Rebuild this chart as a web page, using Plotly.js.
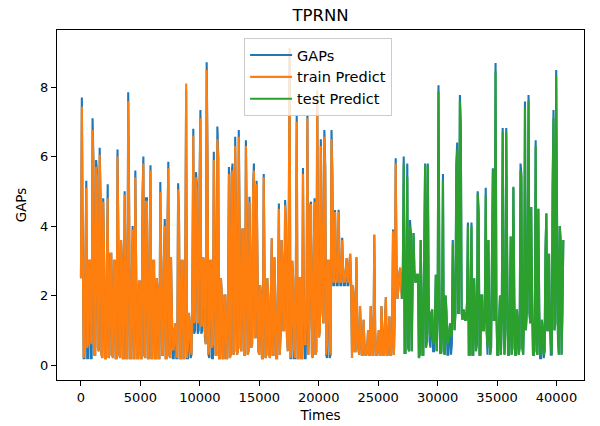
<!DOCTYPE html>
<html>
<head>
<meta charset="utf-8">
<script src="https://cdn.plot.ly/plotly-3.0.1.min.js"></script>
<style>
  html, body { margin: 0; padding: 0; background: #fff; }
  #chart { width: 600px; height: 426px; }
</style>
</head>
<body>
<div id="chart"></div>
<script>
// Each reading is a time bin of `binWidth` time units: the series swings
// between a low and a high value inside every bin.
const binWidth = 150;
const testStartBin = 180;

// Observed GAPs: upper and lower envelope per bin
const gapsHigh = [
  7.7, 3.5, 3.0, 5.3, 3.0, 3.0, 7.1, 5.9, 5.9, 5.56,
  6.25, 4.8, 4.8, 3.0, 2.5, 5.2, 3.2, 3.2, 3.0, 3.0,
  6.2, 3.6, 3.6, 3.0, 5.0, 3.0, 7.85, 4.7, 2.5, 4.0,
  5.6, 2.5, 2.4, 2.4, 4.8, 6.0, 4.8, 4.8, 3.0, 5.75,
  3.0, 3.0, 2.5, 2.2, 5.27, 3.0, 3.0, 4.2, 3.9, 5.85,
  3.1, 1.5, 1.0, 1.2, 5.23, 4.2, 3.0, 3.0, 3.0, 7.9,
  1.5, 1.2, 2.5, 6.8, 5.55, 5.2, 5.2, 7.34, 3.1, 3.0,
  8.71, 5.8, 3.0, 3.0, 6.14, 3.5, 6.86, 6.0, 2.5, 2.0,
  2.0, 2.0, 2.0, 5.7, 5.5, 5.8, 6.57, 4.0, 6.76, 3.9,
  3.9, 3.9, 6.47, 4.0, 4.84, 3.0, 5.04, 5.8, 5.3, 3.0,
  2.3, 2.0, 5.5, 2.5, 2.5, 2.0, 2.0, 3.65, 3.1, 2.0,
  2.0, 4.65, 3.6, 3.0, 4.75, 4.08, 3.7, 9.0, 3.0, 2.5,
  2.5, 7.2, 2.5, 2.5, 5.67, 2.0, 2.0, 7.2, 4.6, 4.7,
  3.0, 4.8, 7.9, 3.0, 6.5, 4.4, 6.76, 5.7, 3.0, 3.0,
  6.76, 5.5, 4.46, 3.0, 4.47, 3.0, 3.66, 2.8, 2.7, 3.08,
  2.9, 3.2, 2.3, 2.0, 3.1, 1.0, 1.7, 1.0, 1.3, 0.6,
  0.5, 1.0, 1.7, 1.0, 3.75, 1.0, 0.6, 1.0, 1.7, 1.0,
  1.3, 1.96, 1.0, 1.4, 1.0, 3.9, 5.95, 2.8, 2.6, 2.8,
  2.6, 6.0, 3.0, 5.8, 4.17, 3.8, 3.8, 2.7, 2.6, 2.6,
  3.6, 2.0, 3.3, 5.8, 5.8, 2.0, 1.5, 1.6, 1.3, 2.6,
  8.05, 2.5, 1.5, 5.5, 2.0, 1.5, 1.0, 1.2, 3.6, 2.0,
  5.8, 6.4, 7.77, 6.9, 1.6, 1.5, 1.8, 4.1, 2.0, 4.1,
  2.5, 1.6, 5.0, 4.4, 2.0, 2.0, 1.6, 5.1, 3.6, 1.3,
  3.2, 5.66, 8.69, 1.5, 1.3, 2.0, 6.82, 2.0, 6.82, 3.2,
  1.5, 3.7, 5.13, 2.0, 1.6, 1.2, 5.8, 5.5, 1.5, 7.58,
  3.1, 7.77, 4.55, 1.8, 1.3, 6.47, 4.5, 1.6, 1.3, 1.0,
  3.3, 4.37, 3.2, 1.3, 5.2, 7.34, 8.49, 4.0, 4.0, 3.6,
  3.6
];
const gapsLow = [
  2.5, 0.2, 0.2, 0.2, 0.2, 0.2, 0.2, 0.3, 0.3, 0.5,
  0.4, 0.3, 0.2, 0.2, 0.2, 0.2, 0.3, 0.3, 0.2, 0.2,
  0.2, 0.3, 0.2, 0.2, 0.2, 0.2, 0.2, 0.2, 0.2, 0.2,
  0.2, 0.2, 0.2, 0.2, 0.2, 0.3, 0.2, 0.2, 0.2, 0.2,
  0.2, 0.2, 0.2, 0.2, 0.2, 0.3, 0.3, 0.2, 0.2, 0.3,
  0.2, 0.2, 0.2, 0.2, 0.2, 0.2, 0.2, 0.2, 0.2, 0.2,
  0.2, 0.2, 0.3, 0.9, 1.0, 0.9, 1.0, 0.9, 1.0, 0.8,
  0.6, 0.3, 0.2, 0.2, 0.2, 0.3, 0.3, 0.2, 0.2, 0.2,
  0.2, 0.2, 0.2, 0.2, 0.3, 0.3, 0.4, 0.3, 0.4, 0.5,
  0.4, 0.3, 0.3, 0.3, 0.4, 0.5, 0.6, 0.8, 0.8, 0.4,
  0.3, 0.2, 0.2, 0.2, 0.3, 0.3, 0.2, 0.3, 0.3, 0.2,
  0.2, 0.3, 0.9, 1.0, 1.0, 0.8, 0.4, 0.2, 0.2, 0.2,
  0.2, 0.2, 0.2, 0.2, 0.2, 0.2, 0.2, 0.3, 1.2, 0.3,
  0.2, 0.3, 0.4, 0.8, 1.0, 1.5, 1.2, 0.3, 0.2, 0.2,
  0.3, 2.3, 2.3, 2.3, 2.3, 2.3, 2.3, 2.3, 2.3, 2.3,
  2.3, 2.3, 0.2, 0.4, 0.4, 0.5, 0.3, 0.3, 0.3, 0.3,
  0.3, 0.3, 0.3, 0.3, 0.3, 0.3, 0.3, 0.3, 0.3, 0.3,
  0.3, 0.3, 0.3, 0.3, 0.3, 0.3, 1.5, 1.9, 2.2, 2.3,
  1.9, 0.35, 0.35, 0.5, 0.4, 0.4, 2.4, 2.4, 2.4, 0.2,
  0.3, 0.3, 0.3, 0.5, 0.7, 0.7, 0.5, 0.4, 0.4, 0.4,
  1.3, 0.35, 0.35, 0.4, 0.3, 0.3, 0.3, 0.3, 0.6, 1.0,
  1.5, 1.5, 1.5, 1.5, 1.3, 1.3, 1.3, 0.3, 0.3, 0.3,
  0.3, 0.4, 0.6, 0.3, 0.3, 1.0, 1.0, 1.0, 0.3, 0.3,
  0.5, 1.3, 1.3, 0.3, 0.3, 0.3, 1.3, 0.3, 1.0, 0.3,
  0.3, 0.3, 0.5, 0.3, 0.3, 0.3, 0.5, 0.5, 0.3, 1.0,
  1.5, 1.5, 1.2, 0.3, 0.3, 0.4, 0.3, 0.2, 0.2, 0.2,
  0.4, 1.0, 1.0, 0.3, 0.3, 1.0, 1.2, 0.7, 0.3, 0.3,
  1.5
];

// Training-set predictions: upper and lower envelope per bin
const trainHigh = [
  7.43, 3.5, 3.0, 5.1, 3.0, 3.0, 6.76, 5.7, 5.7, 5.4,
  6.05, 4.7, 4.7, 3.0, 2.5, 4.8, 3.2, 3.2, 3.0, 3.0,
  6.0, 3.6, 3.6, 3.0, 4.9, 3.0, 7.6, 4.7, 2.5, 3.9,
  5.4, 2.5, 2.4, 2.4, 4.7, 5.8, 4.7, 4.7, 3.0, 5.6,
  3.0, 3.0, 2.5, 2.2, 4.98, 3.0, 3.0, 4.0, 3.9, 5.66,
  3.1, 1.5, 1.0, 1.2, 5.05, 4.1, 3.0, 3.0, 3.0, 8.1,
  1.5, 1.2, 2.5, 6.6, 5.4, 5.0, 5.0, 7.1, 3.1, 3.0,
  8.49, 5.7, 3.0, 3.0, 5.9, 3.5, 6.5, 5.9, 2.5, 2.0,
  2.0, 2.0, 2.0, 5.5, 5.4, 5.6, 6.3, 4.0, 6.57, 3.9,
  3.9, 3.9, 6.3, 4.0, 4.7, 3.0, 4.9, 5.6, 5.2, 3.0,
  2.3, 2.0, 5.4, 2.5, 2.5, 2.0, 2.0, 3.65, 3.1, 2.0,
  2.0, 4.5, 3.6, 3.0, 4.6, 4.0, 3.7, 9.12, 3.0, 2.5,
  2.5, 7.0, 2.5, 2.5, 5.5, 2.0, 2.0, 7.1, 4.6, 4.6,
  3.0, 4.7, 7.9, 3.0, 6.3, 4.3, 6.57, 5.6, 3.0, 3.0,
  6.5, 5.4, 4.4, 3.0, 4.4, 3.0, 3.6, 2.8, 2.7, 3.08,
  2.9, 3.2, 2.3, 2.0, 3.1, 1.0, 1.7, 1.0, 1.3, 0.6,
  0.5, 1.0, 1.7, 1.0, 3.75, 1.0, 0.6, 1.0, 1.7, 1.0,
  1.3, 1.96, 1.0, 1.4, 1.0, 3.85, 5.8, 2.8, 2.6, 2.8,
  2.6
];
const trainLow = [
  2.5, 0.2, 0.6, 0.5, 0.6, 0.7, 0.6, 0.3, 0.3, 0.5,
  0.4, 0.3, 0.2, 0.2, 0.2, 0.2, 0.3, 0.3, 0.2, 0.2,
  0.2, 0.3, 0.2, 0.2, 0.2, 0.2, 0.2, 0.2, 0.2, 0.2,
  0.2, 0.2, 0.2, 0.2, 0.2, 0.3, 0.2, 0.2, 0.2, 0.2,
  0.2, 0.2, 0.2, 0.2, 0.2, 0.3, 0.3, 0.2, 0.2, 0.3,
  0.2, 0.45, 0.45, 0.45, 0.2, 0.2, 0.2, 0.2, 0.2, 0.2,
  0.5, 0.5, 0.3, 1.2, 1.3, 1.2, 1.3, 1.1, 1.2, 1.0,
  0.6, 0.3, 0.5, 0.5, 0.6, 0.3, 0.3, 0.2, 0.2, 0.2,
  0.2, 0.2, 0.2, 0.2, 0.3, 0.3, 0.4, 0.3, 0.4, 0.5,
  0.4, 0.3, 0.3, 0.3, 0.4, 0.5, 0.6, 0.8, 0.8, 0.4,
  0.3, 0.2, 0.2, 0.2, 0.3, 0.3, 0.2, 0.3, 0.3, 0.2,
  0.2, 0.3, 0.9, 1.0, 1.0, 0.8, 0.4, 0.2, 0.5, 0.5,
  0.2, 0.2, 0.2, 0.2, 0.2, 0.6, 0.6, 0.3, 1.2, 0.3,
  0.2, 0.3, 0.4, 0.8, 1.0, 1.5, 1.2, 0.3, 0.6, 0.6,
  0.3, 2.4, 2.4, 2.4, 2.4, 2.4, 2.4, 2.4, 2.4, 2.4,
  2.4, 2.4, 0.2, 0.4, 0.4, 0.5, 0.3, 0.3, 0.3, 0.3,
  0.3, 0.3, 0.3, 0.3, 0.3, 0.3, 0.3, 0.3, 0.3, 0.3,
  0.3, 0.3, 0.3, 0.3, 0.3, 0.3, 1.5, 1.9, 2.2, 2.3,
  1.9
];

// Test-set predictions: upper and lower envelope per bin (from testStartBin)
const testHigh = [
  2.6, 5.8, 3.0, 5.42, 4.0, 3.7, 3.8, 2.7, 2.6, 2.6,
  3.6, 2.0, 3.3, 5.75, 5.75, 2.0, 1.5, 1.6, 1.3, 2.6,
  7.87, 2.5, 1.5, 5.3, 2.0, 1.5, 1.0, 1.2, 3.5, 2.0,
  5.6, 6.2, 7.6, 6.76, 1.6, 1.5, 1.8, 4.0, 2.0, 4.0,
  2.5, 1.6, 4.95, 4.4, 2.0, 2.0, 1.6, 4.9, 3.6, 1.3,
  3.2, 5.6, 8.45, 1.5, 1.3, 2.0, 6.7, 2.0, 6.7, 3.2,
  1.5, 3.7, 5.1, 2.0, 1.6, 1.2, 5.6, 5.4, 1.5, 7.4,
  3.1, 7.6, 4.55, 1.8, 1.3, 6.3, 4.5, 1.6, 1.3, 1.0,
  3.3, 4.35, 3.2, 1.3, 5.0, 7.1, 8.33, 4.0, 4.0, 3.6,
  3.6
];
const testLow = [
  1.9, 0.35, 0.35, 0.5, 0.4, 0.4, 2.4, 2.4, 2.4, 0.2,
  0.3, 0.3, 0.3, 0.5, 0.7, 0.9, 0.8, 0.7, 0.6, 0.4,
  1.3, 0.35, 0.35, 0.4, 0.3, 0.6, 0.7, 0.8, 0.9, 1.0,
  1.5, 1.5, 1.5, 1.5, 1.3, 1.3, 1.3, 0.3, 0.3, 0.3,
  0.3, 0.4, 0.6, 0.3, 0.3, 1.0, 1.0, 1.0, 0.5, 0.3,
  0.5, 1.3, 1.3, 0.3, 0.3, 0.3, 1.3, 0.3, 1.0, 0.3,
  0.3, 0.3, 0.5, 0.3, 0.3, 0.3, 0.5, 0.5, 0.3, 1.0,
  1.5, 1.5, 1.2, 0.3, 0.3, 0.4, 0.3, 0.3, 0.3, 0.3,
  0.4, 1.0, 1.0, 0.6, 0.3, 1.0, 1.2, 0.9, 0.3, 0.3,
  1.5
];

const xTickVals = [0, 5000, 10000, 15000, 20000, 25000, 30000, 35000, 40000];
const yTickVals = [0, 2, 4, 6, 8];

// Turn per-bin low/high readings into a polyline that swings inside each bin
function binsToLine(low, high, firstBin) {
  const x = [], y = [];
  for (let i = 0; i < low.length; i++) {
    const t = (firstBin + i) * binWidth;
    x.push(t, t + binWidth / 2);
    if (i % 2 === 0) y.push(low[i], high[i]);
    else y.push(high[i], low[i]);
  }
  return { x, y };
}

const g = binsToLine(gapsLow, gapsHigh, 0);
const tr = binsToLine(trainLow, trainHigh, 0);
const te = binsToLine(testLow, testHigh, testStartBin);

const lineW = 2.1;
const traces = [
  { x: g.x, y: g.y, name: 'GAPs', type: 'scatter', mode: 'lines',
    line: { color: '#1f77b4', width: lineW, simplify: false } },
  { x: tr.x, y: tr.y, name: 'train Predict', type: 'scatter', mode: 'lines',
    line: { color: '#ff7f0e', width: lineW, simplify: false } },
  { x: te.x, y: te.y, name: 'test Predict', type: 'scatter', mode: 'lines',
    line: { color: '#2ca02c', width: lineW, simplify: false } }
];

const font = { family: 'DejaVu Sans, sans-serif', color: '#000' };

const layout = {
  width: 600, height: 426,
  paper_bgcolor: '#fff', plot_bgcolor: '#fff',
  margin: { l: 57, r: 16, t: 30, b: 46, pad: 0 },
  font: Object.assign({ size: 13 }, font),
  showlegend: true,
  title: { text: 'TPRNN', font: Object.assign({ size: 16.5 }, font),
           x: 0.5, xref: 'paper', xanchor: 'center',
           y: 0.964, yref: 'container', yanchor: 'middle' },
  xaxis: {
    range: [-2015, 42315], tickvals: xTickVals, tickformat: 'd',
    ticks: 'outside', ticklen: 5, tickwidth: 1, tickcolor: '#000',
    showline: true, linecolor: '#000', linewidth: 1.1, mirror: true,
    showgrid: false, zeroline: false,
    tickfont: Object.assign({ size: 13 }, font),
    title: { text: 'Times', font: Object.assign({ size: 13.5 }, font), standoff: 6 }
  },
  yaxis: {
    range: [-0.43, 9.64], tickvals: yTickVals,
    ticks: 'outside', ticklen: 5, tickwidth: 1, tickcolor: '#000',
    showline: true, linecolor: '#000', linewidth: 1.1, mirror: true,
    showgrid: false, zeroline: false,
    tickfont: Object.assign({ size: 13 }, font),
    title: { text: 'GAPs', font: Object.assign({ size: 13.5 }, font), standoff: 10 }
  },
  legend: {
    x: 0.355, y: 0.977, xanchor: 'left', yanchor: 'top',
    bgcolor: 'rgba(255,255,255,0.8)', bordercolor: '#cccccc', borderwidth: 1,
    font: Object.assign({ size: 14.5 }, font),
    itemwidth: 42,
    tracegroupgap: 0
  }
};

Plotly.newPlot('chart', traces, layout, { staticPlot: true, displayModeBar: false });
</script>
</body>
</html>
